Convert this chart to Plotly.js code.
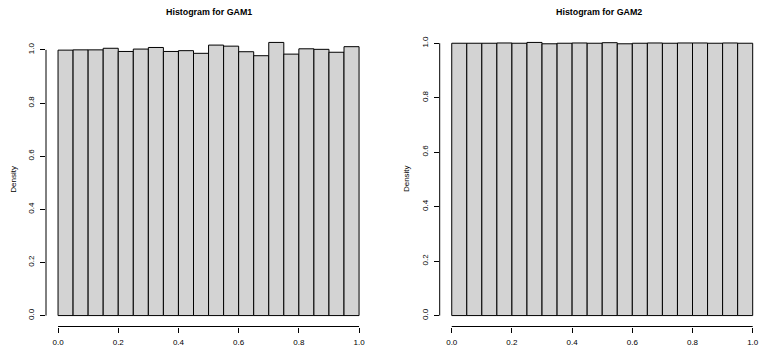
<!DOCTYPE html>
<html><head><meta charset="utf-8">
<script src="https://cdn.plot.ly/plotly-3.0.1.min.js"></script>
<style>html,body{margin:0;padding:0;background:#fff}#chart{width:759px;height:346px}</style>
</head><body><div id="chart"></div>
<script>
// ---- data ----
const breaks = [0, 0.05, 0.1, 0.15, 0.2, 0.25, 0.3, 0.35, 0.4, 0.45, 0.5, 0.55, 0.6, 0.65, 0.7, 0.75, 0.8, 0.85, 0.9, 0.95, 1];
const gam1Density = [0.999, 1.000, 1.000, 1.006, 0.994, 1.003, 1.009, 0.994, 0.997, 0.987, 1.018, 1.014, 0.993, 0.978, 1.028, 0.984, 1.004, 1.002, 0.991, 1.012];
const gam2Density = [1.000, 1.000, 1.000, 1.001, 1.000, 1.003, 0.998, 1.000, 1.001, 1.000, 1.002, 0.998, 1.000, 1.001, 1.000, 1.001, 1.001, 1.000, 1.001, 1.000];
const xTickVals = [0, 0.2, 0.4, 0.6, 0.8, 1.0];
const xTickText = ['0.0', '0.2', '0.4', '0.6', '0.8', '1.0'];
const yTickVals = [0, 0.2, 0.4, 0.6, 0.8, 1.0];
const yTickText = ['0.0', '0.2', '0.4', '0.6', '0.8', '1.0'];
const panelTitles = ['Histogram for GAM1', 'Histogram for GAM2'];
const yLabel = 'Density';

// ---- layout helpers ----
const W = 759, H = 346;
const FONT = '"Liberation Sans", Arial, Helvetica, sans-serif';
const mids = breaks.slice(0, -1).map((b, i) => (b + breaks[i + 1]) / 2);
const widths = breaks.slice(0, -1).map((b, i) => breaks[i + 1] - b);
const yDom = [(H - 326.5) / H, (H - 31.5) / H];
const panels = [
  {data: gam1Density, xs: '', xDom: [46 / W, 371.1 / W], xRange: [-0.04, 1.04], labX: 12.7 / W},
  {data: gam2Density, xs: '2', xDom: [439.7 / W, 1], xRange: [-0.04, (W - 451.7) / 301], labX: (12.7 + 393.4) / W}
];

const traces = [], shapes = [], annotations = [];
const layout = {
  width: W, height: H, margin: {l: 0, r: 0, t: 0, b: 0},
  paper_bgcolor: '#fff', plot_bgcolor: '#fff', showlegend: false,
  font: {family: FONT, color: '#000', size: 8}, bargap: 0
};

panels.forEach((p, k) => {
  const xa = 'x' + p.xs, ya = 'y' + p.xs;
  const ymax = Math.max(...p.data);
  traces.push({
    type: 'bar', x: mids, y: p.data, width: widths, xaxis: xa, yaxis: ya,
    marker: {color: '#d3d3d3', line: {color: '#000', width: 1}}, hoverinfo: 'skip'
  });
  layout['xaxis' + p.xs] = {
    domain: p.xDom, range: p.xRange, anchor: ya, showgrid: false, zeroline: false, showline: false,
    ticks: 'outside', ticklen: 5, tickwidth: 1, tickcolor: '#000', ticklabelstandoff: 3,
    tickvals: xTickVals, ticktext: xTickText, tickfont: {size: 8, family: FONT, color: '#000'}
  };
  layout['yaxis' + p.xs] = {
    domain: yDom, range: [-0.04 * ymax, 1.04 * ymax], anchor: xa, showgrid: false, zeroline: false, showline: false,
    ticks: 'outside', ticklen: 5, tickwidth: 1, tickcolor: '#000', tickangle: -90, ticklabelstandoff: 3,
    tickvals: yTickVals, ticktext: yTickText, tickfont: {size: 8, family: FONT, color: '#000'}
  };
  // R-style axis lines spanning first to last tick
  shapes.push({type: 'line', xref: xa, yref: 'paper', x0: xTickVals[0], x1: xTickVals[xTickVals.length - 1],
    y0: yDom[0], y1: yDom[0], line: {color: '#000', width: 1}});
  shapes.push({type: 'line', xref: 'paper', yref: ya, x0: p.xDom[0], x1: p.xDom[0],
    y0: yTickVals[0], y1: yTickVals[yTickVals.length - 1], line: {color: '#000', width: 1}});
  annotations.push({text: '<b>' + panelTitles[k] + '</b>', xref: xa + ' domain', x: 0.5, yref: 'paper', y: (H - 12) / H,
    xanchor: 'center', yanchor: 'middle', showarrow: false, font: {size: 8.9, family: FONT, color: '#000'}});
  annotations.push({text: yLabel, xref: 'paper', x: p.labX, yref: ya + ' domain', y: 0.5, textangle: -90,
    xanchor: 'center', yanchor: 'middle', showarrow: false, font: {size: 8, family: FONT, color: '#000'}});
});
layout.shapes = shapes;
layout.annotations = annotations;

Plotly.newPlot('chart', traces, layout, {staticPlot: true, displayModeBar: false});
</script>
</body></html>
